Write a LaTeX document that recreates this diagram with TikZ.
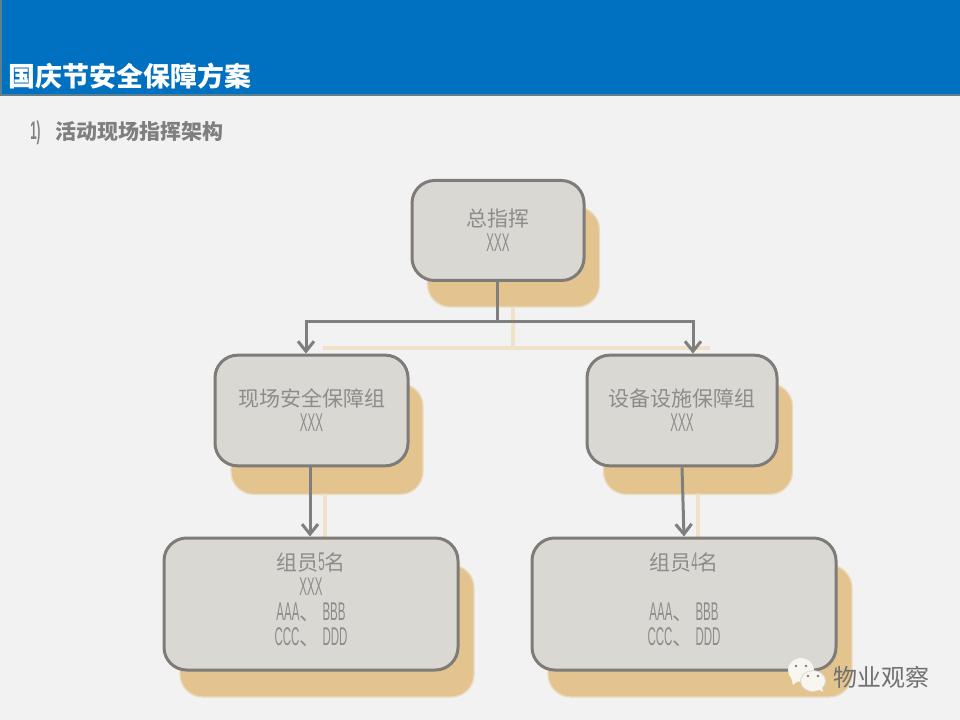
\documentclass[tikz,border=0pt]{standalone}
\usepackage{fontspec}
\usetikzlibrary{arrows.meta,calc}
\setmainfont{Noto Sans CJK SC}
\newfontfamily\cond[FakeStretch=0.45,Scale=1.22]{Liberation Sans}
\newcommand\lat[1]{{\cond #1}}
\definecolor{pagebg}{HTML}{F2F2F2}
\definecolor{headblue}{HTML}{0070C0}
\definecolor{headedge}{HTML}{5E7F8C}
\definecolor{boxfill}{HTML}{DAD8D3}
\definecolor{boxedge}{HTML}{7F7B78}
\definecolor{shadowtan}{HTML}{E3C48F}
\definecolor{shadowline}{HTML}{F0E2C8}
\definecolor{linkgrey}{HTML}{7F7F7F}
\definecolor{boxtext}{HTML}{8E8C8A}
\definecolor{bubble}{HTML}{F8F6EF}
\tikzset{
  x=0.75pt,y=-0.75pt,
  boxbase/.style={minimum width=#1*0.75pt,inner sep=0pt,rounded corners=17pt,align=center},
  orgbox/.style={boxbase=#1,draw=boxedge,line width=2.25pt,fill=boxfill,text=boxtext,font=\fontsize{15.75pt}{18.75pt}\selectfont},
  shadowbox/.style={boxbase=#1,fill=shadowtan,draw=shadowtan!50!pagebg,line width=1pt},
  link/.style={draw=linkgrey,line width=2.25pt},
  arrowlink/.style={link,-{Straight Barb[length=7.5pt,width=12pt,line width=2.25pt]}},
  shadowlink/.style={draw=shadowline,line width=3pt},
  eye/.style={circle,fill=boxedge,inner sep=0pt,minimum size=2pt},
}
\begin{document}
\begin{tikzpicture}
\useasboundingbox (0,0) rectangle (960,720);
\fill[pagebg] (0,0) rectangle (960,720);
\path[fill=headblue] (0,0) rectangle (960,95);
\draw[headedge,line width=1.2pt] (0.8,0) -- (0.8,95) -- (960,95);
\node[anchor=west,inner sep=0pt,text=white,font=\bfseries\fontsize{20.2pt}{24pt}\selectfont] (title) at (8.5,76.5) {国庆节安全保障方案};
\node[anchor=west,inner sep=0pt,text=linkgrey,font=\bfseries\fontsize{15.75pt}{18pt}\selectfont] (sub) at (30,133) {\lat{1)}\hspace{11pt}活动现场指挥架构};

% offset shadows
\node[shadowbox=172,minimum height=75pt] (sTop) at (513.5,257) {};
\node[shadowbox=192,minimum height=83pt] (sMidL) at (327,439) {};
\node[shadowbox=189,minimum height=83pt] (sMidR) at (698,439) {};
\node[shadowbox=294,minimum height=99pt] (sBotL) at (327,631) {};
\node[shadowbox=304,minimum height=99pt] (sBotR) at (700,631) {};
\coordinate (sj) at (513,348);
\draw[shadowlink] (sTop.south -| sj) -- (sj);
\draw[shadowlink] (323,348) -- (710,348);
\draw[shadowlink] (325,494) -- (325,538);
\draw[shadowlink] (698,494) -- (698,538);

% boxes
\node[orgbox=172,minimum height=75pt] (top) at (498,230.5) {总指挥\\\lat{XXX}};
\node[orgbox=193,minimum height=83pt] (midL) at (311.5,410.5) {现场安全保障组\\\lat{XXX}};
\node[orgbox=190,minimum height=83pt] (midR) at (682,410.5) {设备设施保障组\\\lat{XXX}};
\node[orgbox=294,minimum height=99pt] (botL) at (311,604) {组员\lat{5}名\\\lat{XXX}\\\lat{AAA}、\hspace{1.5pt}\lat{BBB}\\\lat{CCC}、\hspace{1.5pt}\lat{DDD}\\[-12pt]\mbox{}};
\node[orgbox=304,minimum height=99pt] (botR) at (684,604) {组员\lat{4}名\\\mbox{}\\\lat{AAA}、\hspace{1.5pt}\lat{BBB}\\\lat{CCC}、\hspace{1.5pt}\lat{DDD}\\[-12pt]\mbox{}};

% connectors
\coordinate (j) at (497,321);
\coordinate (jL) at (306,321);
\coordinate (jR) at (693,321);
\draw[link] (top.south -| j) -- (j);
\draw[arrowlink] (j) -- (jL) -- (jL |- midL.north);
\draw[arrowlink] (j) -- (jR) -- (jR |- midR.north);
\draw[arrowlink] (midL.south -| 310,0) -- (botL.north -| 310,0);
\draw[arrowlink] (midR.south -| 682,0) -- (botR.north -| 684,0);

% WeChat mark
\fill[bubble] (801,670) ellipse (13 and 12);
\fill[bubble] (791,677) -- (793,685) -- (799,680) -- cycle;
\draw[boxfill,line width=0.6pt,fill=bubble] (813,681) ellipse (12.5 and 10.5);
\fill[bubble] (817,688) -- (823,692) -- (821,684) -- cycle;
\node[eye] (e1) at (796,666) {};
\node[eye] (e2) at (806,666) {};
\node[eye] (e3) at (808,676) {};
\node[eye] (e4) at (818,676) {};
\node[anchor=west,inner sep=0pt,text=boxtext!80!black,font=\fontsize{18pt}{20pt}\selectfont] (mark) at (833,677) {物业观察};
\end{tikzpicture}
\end{document}
